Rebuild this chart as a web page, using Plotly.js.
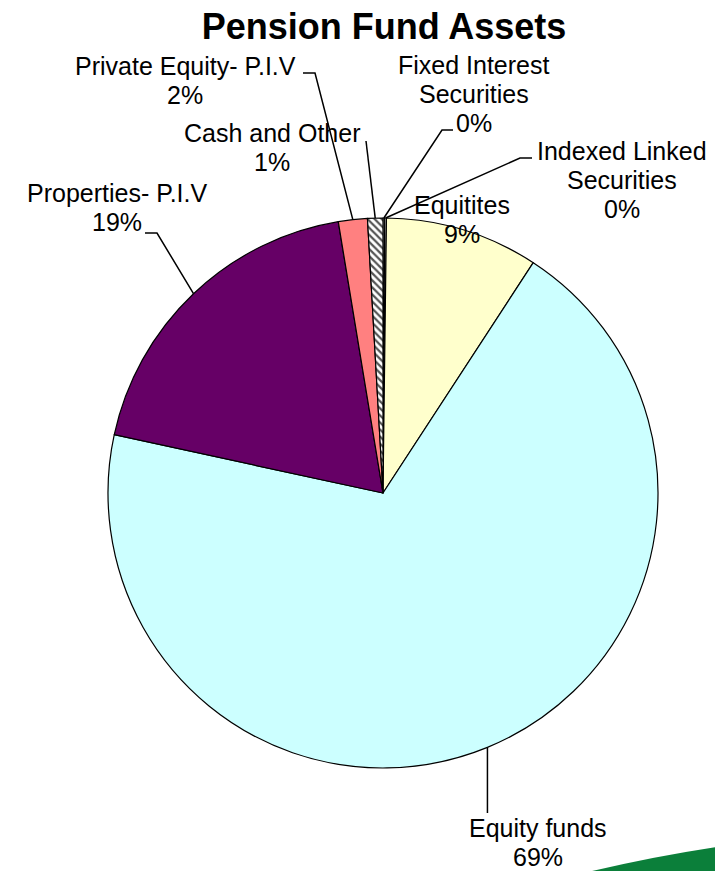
<!DOCTYPE html>
<html>
<head>
<meta charset="utf-8">
<script src="https://cdn.plot.ly/plotly-3.0.1.min.js"></script>
<style>html,body{margin:0;padding:0;background:#fff;}#chart{width:715px;height:871px;}</style>
</head>
<body>
<div id="chart"></div>
<script>
// ---- data ----
const categories = ["Fixed Interest Securities", "Indexed Linked Securities", "Equitites", "Equity funds", "Properties- P.I.V", "Private Equity- P.I.V", "Cash and Other"];
const values = [0.1, 0.1, 9.0, 69.2, 19.0, 1.7, 0.9];
const labelLines = [["Fixed Interest", "Securities"], ["Indexed Linked", "Securities"], ["Equitites"], ["Equity funds"], ["Properties- P.I.V"], ["Private Equity- P.I.V"], ["Cash and Other"]];
const sliceColors = ["#ffffff", "#ffffff", "#ffffcc", "#ccffff", "#660066", "#ff8080", "#ffffff"];
const slicePatterns = ["", "", "", "", "", "", "\\"];

// ---- layout constants ----
const W = 715, H = 871;
const CX = 383, CY = 493, R = 275;
const FONT = "Liberation Sans, Arial, sans-serif";
const px = x => x / W;
const py = y => 1 - y / H;

// label text positions (center x, first line center y) in pixels
const labelPos = [[474, 65], [622, 151], [462, 205], [538, 828], [117, 193], [185, 66], [272, 133]];
// leader line start points (pixels) before reaching the slice edge; null = no leader
const leaderPts = [
  [[453, 130], [442, 130]],
  [[532, 158], [520, 158]],
  null,
  [["mid", 813]],
  [[145, 233], [157, 233]],
  [[303, 73], [315, 73]],
  [[366, 141]]
];
const LINE_STEP = 29;

const total = values.reduce((a, b) => a + b, 0);
let cum = 0;
const mids = values.map(v => {
  const th = 2 * Math.PI * (cum + v / 2) / total;
  cum += v;
  return [CX + R * Math.sin(th), CY - R * Math.cos(th)];
});

const annotations = [];
const shapes = [];
categories.forEach((c, i) => {
  const pct = Math.round(values[i] / total * 100) + "%";
  const lines = labelLines[i].concat([pct]);
  lines.forEach((t, k) => {
    annotations.push({
      text: t, showarrow: false, xref: "paper", yref: "paper",
      x: px(labelPos[i][0]), y: py(labelPos[i][1] + k * LINE_STEP),
      xanchor: "center", yanchor: "middle",
      font: {family: FONT, size: 25, color: "#000"}
    });
  });
  if (leaderPts[i]) {
    const pts = leaderPts[i].map(p => [p[0] === "mid" ? mids[i][0] : p[0], p[1]]).concat([mids[i]]);
    const d = pts.map((p, k) => (k ? "L " : "M ") + px(p[0]).toFixed(5) + "," + py(p[1]).toFixed(5)).join(" ");
    shapes.push({type: "path", xref: "paper", yref: "paper", path: d, line: {color: "#000", width: 1.5}});
  }
});

// decorative green swoosh, bottom right
shapes.push({
  type: "path", xref: "paper", yref: "paper", layer: "below",
  path: "M " + px(588) + "," + py(872) + " Q " + px(650) + "," + py(857) + " " + px(716) + "," + py(847) + " L " + px(716) + "," + py(872) + " Z",
  fillcolor: "#0b7f3a", line: {width: 0}
});

const trace = {
  type: "pie",
  labels: categories,
  values: values,
  sort: false,
  direction: "clockwise",
  rotation: 0,
  textinfo: "none",
  hoverinfo: "none",
  showlegend: false,
  domain: {x: [px(CX - R), px(CX + R)], y: [py(CY + R), py(CY - R)]},
  marker: {
    colors: sliceColors,
    line: {color: "#000", width: 1.2},
    pattern: {shape: slicePatterns, fgcolor: "#555555", size: 5, solidity: 0.45}
  }
};

const layout = {
  width: W, height: H,
  margin: {l: 0, r: 0, t: 0, b: 0},
  paper_bgcolor: "#fff",
  title: {
    text: "<b>Pension Fund Assets</b>",
    font: {family: FONT, size: 36, color: "#000"},
    x: px(384), xanchor: "center", y: py(26), yanchor: "middle"
  },
  annotations: annotations,
  shapes: shapes
};

Plotly.newPlot("chart", [trace], layout, {displayModeBar: false, staticPlot: true});
</script>
</body>
</html>
